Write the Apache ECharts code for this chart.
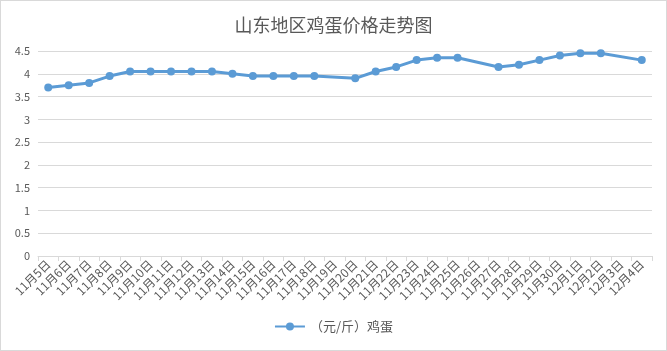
<!DOCTYPE html>
<html>
<head>
<meta charset="utf-8">
<script src="https://cdn.jsdelivr.net/npm/echarts@6/dist/echarts.min.js"></script>
<style>
  html, body { margin: 0; padding: 0; background: #fff; }
  #chart { width: 665px; height: 349px; border: 1px solid #d9d9d9; }
</style>
</head>
<body>
<div id="chart"></div>
<script>
// 日期
const dates = [
  '11月5日', '11月6日', '11月7日', '11月8日', '11月9日', '11月10日',
  '11月11日', '11月12日', '11月13日', '11月14日', '11月15日', '11月16日',
  '11月17日', '11月18日', '11月19日', '11月20日', '11月21日', '11月22日',
  '11月23日', '11月24日', '11月25日', '11月26日', '11月27日', '11月28日',
  '11月29日', '11月30日', '12月1日', '12月2日', '12月3日', '12月4日'
]
// 鸡蛋价格（元/斤），'-' 为缺失
const prices = [
  3.7, 3.75, 3.8, 3.95, 4.05, 4.05,
  4.05, 4.05, 4.05, 4.0, 3.95, 3.95,
  3.95, 3.95, '-', 3.9, 4.05, 4.15,
  4.3, 4.35, 4.35, '-', 4.15, 4.2,
  4.3, 4.4, 4.45, 4.45, '-', 4.3
]
const seriesName = '（元/斤）鸡蛋'
const titleText = '山东地区鸡蛋价格走势图'

;(function () {
  eggPriceChart()
})()

function eggPriceChart() {
  let chart = echarts.init(document.getElementById('chart'))
  let font = '"Noto Sans CJK SC", "Noto Sans", sans-serif'
  let option = {
    textStyle: { fontFamily: font },
    title: {
      text: titleText,
      left: 'center',
      top: 10,
      textStyle: {
        fontSize: 18,
        fontWeight: 'normal',
        color: '#595959',
        fontFamily: font,
      },
    },
    legend: {
      bottom: 12,
      left: 'center',
      itemWidth: 30,
      itemHeight: 10,
      itemGap: 6,
      textStyle: { fontSize: 13, color: '#595959' },
      data: [seriesName],
    },
    grid: {
      top: 50,
      left: 37,
      right: 14,
      bottom: 94,
    },
    xAxis: {
      type: 'category',
      data: dates,
      boundaryGap: true,
      axisLine: { lineStyle: { color: '#d9d9d9' } },
      axisTick: { show: true, length: 5, lineStyle: { color: '#d9d9d9' } },
      axisLabel: {
        interval: 0,
        rotate: 45,
        fontSize: 12,
        color: '#595959',
        margin: 6,
      },
    },
    yAxis: {
      type: 'value',
      min: 0,
      max: 4.5,
      interval: 0.5,
      axisLine: { show: false },
      axisTick: { show: false },
      axisLabel: { fontSize: 11, color: '#595959', margin: 8 },
      splitLine: { lineStyle: { color: '#d9d9d9' } },
    },
    series: [
      {
        name: seriesName,
        type: 'line',
        data: prices,
        connectNulls: true,
        symbol: 'circle',
        symbolSize: 8,
        itemStyle: { color: '#5b9bd5' },
        lineStyle: { color: '#5b9bd5', width: 3 },
      },
    ],
  }
  chart.setOption(option)
}
</script>
</body>
</html>
